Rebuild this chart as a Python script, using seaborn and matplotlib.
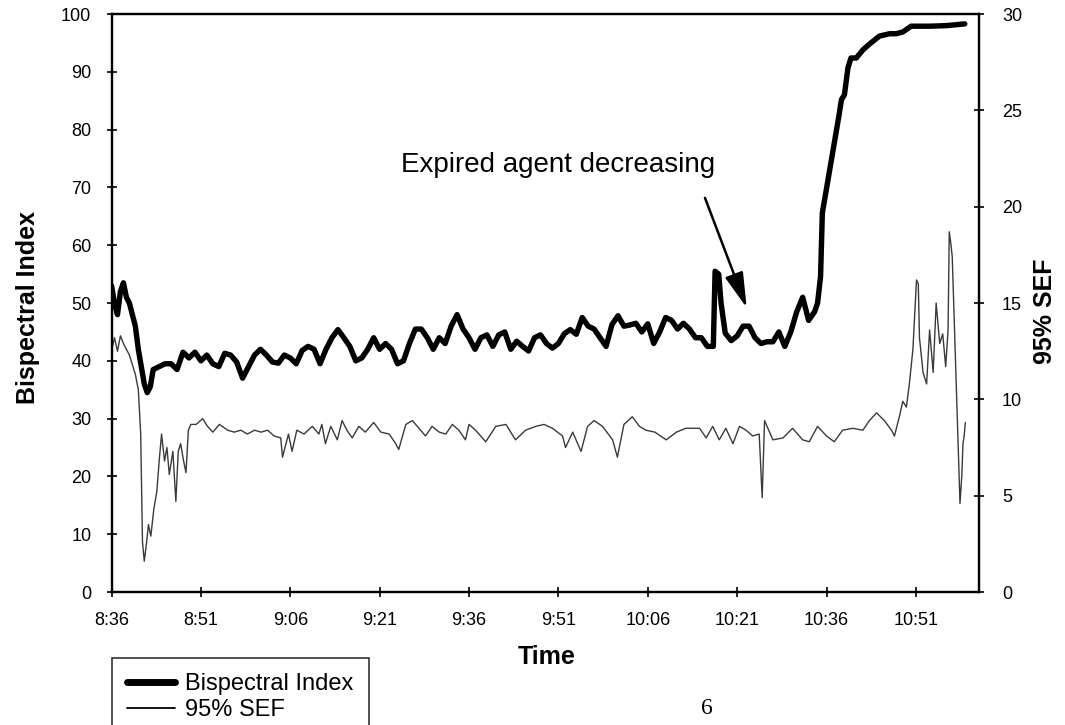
import matplotlib
matplotlib.use('Agg')

import matplotlib.pyplot as plt
import seaborn as sns
from matplotlib.lines import Line2D

# minutes after 8:36
bis_time = [0, 0.5, 1, 1.5, 2, 2.5, 3, 3.5, 4, 4.5, 5, 5.5, 6, 6.5, 7, 8, 9, 10,
            11, 12, 13, 14, 15, 16, 17, 18, 19, 20, 21, 22, 23, 24, 25, 26, 27,
            28, 29, 30, 31, 32, 33, 34, 35, 36, 37, 38, 39, 40, 41, 42, 43, 44,
            45, 46, 47, 48, 49, 50, 51, 52, 53, 54, 55, 56, 57, 58, 59, 60, 61,
            62, 63, 64, 65, 66, 67, 68, 69, 70, 71, 72, 73, 74, 75, 76, 77, 78,
            79, 80, 81, 82, 83, 84, 85, 86, 87, 88, 89, 90, 91, 92, 93, 94, 95,
            96, 97, 98, 99, 100, 101, 101.3, 101.9, 102.3, 103, 104, 105, 106,
            107, 108, 109, 110, 111, 112, 113, 114, 115, 116, 117, 118, 118.5,
            119, 119.3, 122.1, 122.5, 123, 123.6, 124.1, 125, 126.1, 127.2,
            128.9, 130.6, 131.7, 132.8, 134.2, 137.3, 140.1, 143.2]
bis_value = [53, 50, 48, 52, 53.5, 51, 50, 48, 46, 42, 39, 36, 34.5, 35.5, 38.5,
             39, 39.5, 39.5, 38.5, 41.5, 40.5, 41.5, 40, 41, 39.5, 39, 41.3, 41,
             39.8, 37, 39, 41, 42, 41, 39.8, 39.6, 41, 40.5, 39.5, 41.8, 42.5,
             42, 39.5, 42, 44, 45.4, 44, 42.5, 40, 40.5, 42, 44, 42, 43, 42, 39.5,
             40, 43, 45.5, 45.5, 44, 42, 44, 43, 46, 48, 45.5, 44, 42, 44, 44.5,
             42.5, 44.5, 45, 42, 43.4, 42.5, 41.7, 44, 44.5, 43, 42.2, 43, 44.7,
             45.4, 44.6, 47.5, 46, 45.5, 44, 42.5, 46.3, 47.8, 46, 46.2, 46.5, 45,
             46.4, 43, 45, 47.5, 47, 45.5, 46.5, 45.5, 44, 44, 42.5, 42.5, 55.5,
             55, 50, 44.8, 43.5, 44.3, 46, 46, 44, 43, 43.3, 43.3, 45, 42.5, 45,
             48.5, 51, 47, 48.5, 50, 54.6, 65.6, 82.5, 85.2, 86, 90.7, 92.4, 92.4,
             93.8, 94.8, 96.2, 96.6, 96.6, 96.9, 97.9, 97.9, 98, 98.3]

sef_time = [0, 0.5, 1, 1.5, 2, 3, 4, 4.5, 4.9, 5.2, 5.5, 5.9, 6.2, 6.6, 7.1, 7.6,
            8, 8.4, 8.9, 9.3, 9.7, 10.3, 10.8, 11.2, 11.6, 12.1, 12.5, 12.9,
            13.3, 14.2, 15.3, 16.1, 17, 18.1, 19.5, 20.6, 21.7, 22.8, 24, 25.1,
            26.2, 27.3, 28.4, 28.7, 29.7, 30.3, 31.1, 32.3, 33.7, 34.8, 35.3,
            35.9, 36.8, 37.9, 38.7, 39.5, 40.4, 41.5, 42.6, 44, 45.2, 46.6, 47.7,
            48.2, 49.4, 50.5, 51.6, 52.7, 53.8, 55, 56.1, 57.2, 58.3, 59.4, 60,
            61.1, 62.8, 64.5, 66.2, 67.8, 69.5, 71.2, 72.6, 74, 75.7, 76.2, 77.4,
            78.8, 79.9, 81, 82.4, 84.1, 84.9, 86, 87.4, 88.6, 89.7, 91.2, 93.1,
            94.8, 96.4, 98.7, 99.8, 100.9, 102, 103.1, 104.3, 105.4, 106.5,
            107.6, 108.7, 109.2, 109.6, 111, 112.7, 114.3, 116, 117.1, 118.5,
            120, 121.3, 122.7, 124.4, 126.1, 127.2, 128.4, 129.7, 130.9, 131.4,
            132.3, 132.8, 133.4, 133.9, 134.5, 135.1, 135.4, 135.6, 136.2,
            136.8, 137.3, 137.9, 138.4, 139, 139.5, 140, 140.4, 140.6, 140.9,
            141.1, 142.4, 142.7, 142.9, 143.1, 143.3]
sef_value = [12.5, 13.2, 12.5, 13.3, 12.9, 12.3, 11.3, 10.5, 8.2, 2.6, 1.6, 2.6,
             3.5, 2.9, 4.3, 5.2, 6.8, 8.2, 6.8, 7.5, 6.1, 7.3, 4.7, 7.3, 7.7, 6.8,
             6.2, 8.4, 8.7, 8.7, 9, 8.6, 8.3, 8.7, 8.4, 8.3, 8.4, 8.2, 8.4, 8.3,
             8.4, 8.1, 8, 7, 8.2, 7.3, 8.4, 8.2, 8.6, 8.2, 8.7, 7.7, 8.6, 7.9, 8.9,
             8.4, 8, 8.6, 8.3, 8.8, 8.3, 8.2, 7.7, 7.4, 8.7, 8.9, 8.5, 8.1, 8.6,
             8.3, 8.2, 8.7, 8.4, 7.9, 8.7, 8.4, 7.8, 8.6, 8.7, 7.9, 8.4, 8.6, 8.7,
             8.5, 8.1, 7.5, 8.3, 7.3, 8.6, 8.9, 8.6, 7.9, 7, 8.7, 9.1, 8.6, 8.4,
             8.3, 7.9, 8.3, 8.5, 8.5, 8, 8.6, 7.9, 8.5, 7.7, 8.6, 8.4, 8.1, 8.2,
             4.9, 8.9, 7.9, 8, 8.5, 7.9, 7.8, 8.6, 8.1, 7.8, 8.4, 8.5, 8.4, 8.9,
             9.3, 8.9, 8.4, 8.1, 9.2, 9.9, 9.6, 10.8, 12.6, 16.2, 16, 13.2, 11.4,
             10.8, 13.6, 11.4, 15, 12.9, 13.4, 11.7, 13.6, 18.7, 18, 17.4, 4.6, 6,
             7.7, 8.1, 8.8]

tick_minutes = [0, 15, 30, 45, 60, 75, 90, 105, 120, 135]
tick_labels = ["8:36", "8:51", "9:06", "9:21", "9:36", "9:51", "10:06", "10:21",
               "10:36", "10:51"]

sns.set_theme(style="ticks")
plt.rcParams['font.family'] = ['Liberation Sans', 'DejaVu Sans']
plt.rcParams['text.color'] = 'black'
plt.rcParams['axes.labelcolor'] = 'black'
plt.rcParams['xtick.color'] = 'black'
plt.rcParams['ytick.color'] = 'black'

fig = plt.figure(figsize=(10.65, 7.25), dpi=100)
ax = fig.add_axes([0.1047, 0.1834, 0.8146, 0.7972])
ax2 = ax.twinx()

sns.lineplot(x=bis_time, y=bis_value, ax=ax, color='black', linewidth=3.9,
             estimator=None, sort=False)
sns.lineplot(x=sef_time, y=sef_value, ax=ax2, color='#3a3a3a', linewidth=1.0,
             estimator=None, sort=False)

ax.set_xlim(0, 145.6)
ax.set_ylim(0, 100)
ax2.set_ylim(0, 30)
ax.set_xticks(tick_minutes)
ax.set_xticklabels(tick_labels)
ax.set_yticks(range(0, 101, 10))
ax2.set_yticks(range(0, 31, 5))
ax.set_xlabel("")
ax.set_ylabel("")
ax2.set_ylabel("")

for a in (ax, ax2):
    for s in a.spines.values():
        s.set_linewidth(1.6)
        s.set_color('black')
ax.tick_params(axis='x', direction='inout', length=7, width=1.2, labelsize=13, pad=11)
ax.tick_params(axis='y', direction='inout', length=7, width=1.2, labelsize=13, pad=11)
ax2.tick_params(axis='y', direction='inout', length=7, width=1.2, labelsize=13, pad=13)

fig.text(28 / 1065, 1 - 307 / 725, "Bispectral Index", rotation=90, ha='center',
         va='center', fontsize=18, fontweight='bold')
fig.text(1045 / 1065, 1 - 311 / 725, "95% SEF", rotation=90, ha='center',
         va='center', fontsize=18, fontweight='bold')
fig.text(547 / 1065, 1 - 657 / 725, "Time", ha='center', va='center',
         fontsize=18, fontweight='bold')

ax.text(74.9, 73.9, "Expired agent decreasing", ha='center', va='center', fontsize=20)
ax.annotate("", xy=(106.6, 49.2), xytext=(99.6, 68.2),
            arrowprops=dict(arrowstyle='-|>,head_length=0.9,head_width=0.24',
                            color='black', lw=1.8, mutation_scale=24,
                            shrinkA=0, shrinkB=0))

handles = [Line2D([], [], color='black', linewidth=5, label='Bispectral Index'),
           Line2D([], [], color='black', linewidth=1.3, label='95% SEF')]
leg = fig.legend(handles=handles, loc='upper left',
                 bbox_to_anchor=(112 / 1065, 1 - 658 / 725), fontsize=17,
                 frameon=True, fancybox=False, edgecolor='black', borderpad=0.65,
                 handlelength=2.0, handletextpad=0.45, labelspacing=0.15,
                 borderaxespad=0)
leg.get_frame().set_linewidth(1.2)

fig.text(707 / 1065, 1 - 708 / 725, "6", ha='center', va='center', fontsize=17,
         family=['Liberation Serif', 'DejaVu Serif'])

fig.savefig("out.png", dpi=100)
